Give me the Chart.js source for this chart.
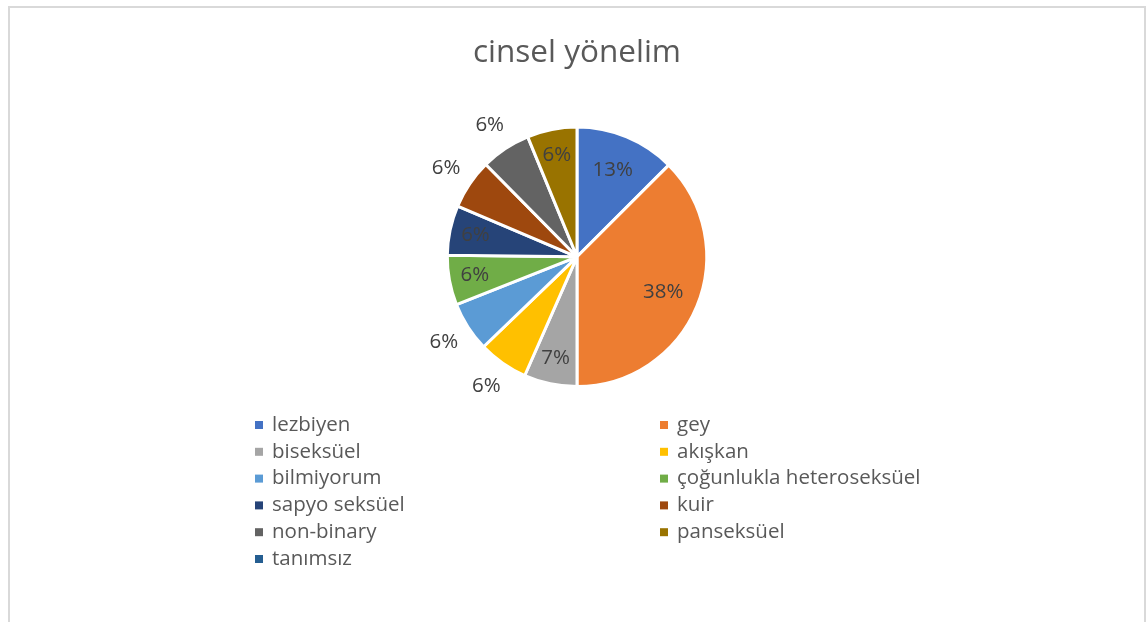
<!DOCTYPE html>
<html>
<head>
<meta charset="utf-8">
<title>cinsel yönelim</title>
<script src="https://cdn.jsdelivr.net/npm/chart.js@4.4.1/dist/chart.umd.min.js"></script>
<style>
    html, body { margin: 0; padding: 0; background: #fff; }
    #wrap { position: relative; width: 1148px; height: 622px; overflow: hidden; }
    #frame { position: absolute; left: 8px; top: 6px; width: 1134px; height: 700px; border: 2px solid #d9d9d9; border-bottom: none; }
    #chart { position: absolute; left: 0; top: 0; }
</style>
</head>
<body>
<div id="wrap">
    <div id="frame"></div>
    <canvas id="chart" width="1148" height="622"></canvas>
</div>
<script>
const TITLE = 'cinsel yönelim';
const CATEGORIES = ['lezbiyen', 'gey', 'biseksüel', 'akışkan', 'bilmiyorum', 'çoğunlukla heteroseksüel', 'sapyo seksüel', 'kuir', 'non-binary', 'panseksüel', 'tanımsız'];
const SHARES = [12.5, 37.5, 6.6, 6.2, 6.2, 6.2, 6.2, 6.2, 6.2, 6.2, 0];
const LABEL_POS = ['in', 'in', 'in', 'out', 'out', 'in', 'in', 'out', 'out', 'in', 'none'];
const COLORS = ['#4472C4', '#ED7D31', '#A5A5A5', '#FFC000', '#5B9BD5', '#70AD47', '#264478', '#9E480E', '#636363', '#997300', '#255E91'];

const FONT = '"Open Sans", Lato, sans-serif';

// percentage labels, placed inside or outside the slice
const sliceLabels = {
    id: 'sliceLabels',
    afterDatasetsDraw(chart) {
        const ctx = chart.ctx;
        const meta = chart.getDatasetMeta(0);
        ctx.save();
        ctx.font = '20.5px ' + FONT;
        ctx.fillStyle = '#404040';
        ctx.textAlign = 'center';
        ctx.textBaseline = 'middle';
        meta.data.forEach((arc, i) => {
            if (LABEL_POS[i] === 'none' || !SHARES[i]) return;
            const p = arc.getProps(['x', 'y', 'startAngle', 'endAngle', 'outerRadius'], true);
            const mid = (p.startAngle + p.endAngle) / 2;
            let k = LABEL_POS[i] === 'out' ? 1.22 : (SHARES[i] > 10 ? 0.72 : 0.8);
            const r = p.outerRadius * k;
            ctx.fillText(Math.round(SHARES[i]) + '%', p.x + Math.cos(mid) * r, p.y + Math.sin(mid) * r);
        });
        ctx.restore();
    }
};

// two column legend below the pie
const gridLegend = {
    id: 'gridLegend',
    afterDraw(chart) {
        const ctx = chart.ctx;
        const cols = [255, 660];
        const top = 425, step = 26.8, box = 8;
        const labels = chart.data.labels;
        const colors = chart.data.datasets[0].backgroundColor;
        ctx.save();
        ctx.font = '20.5px ' + FONT;
        ctx.textBaseline = 'middle';
        ctx.textAlign = 'left';
        labels.forEach((lbl, i) => {
            const x = cols[i % 2];
            const y = top + Math.floor(i / 2) * step;
            ctx.fillStyle = colors[i];
            ctx.fillRect(x, y - box / 2, box, box);
            ctx.fillStyle = '#595959';
            ctx.fillText(lbl, x + 17, y);
        });
        ctx.restore();
    }
};

new Chart(document.getElementById('chart'), {
    type: 'pie',
    data: {
        labels: CATEGORIES,
        datasets: [{ data: SHARES, backgroundColor: COLORS, borderColor: '#ffffff', borderWidth: 3 }]
    },
    options: {
        responsive: false,
        animation: false,
        layout: { padding: { top: 0, left: 6, right: 0, bottom: 234 } },
        plugins: {
            legend: { display: false },
            tooltip: { enabled: false },
            title: {
                display: true,
                text: TITLE,
                color: '#595959',
                font: { family: FONT, size: 31.5, weight: 'normal' },
                padding: { top: 34, bottom: 53.8 }
            }
        }
    },
    plugins: [sliceLabels, gridLegend]
});
</script>
</body>
</html>
